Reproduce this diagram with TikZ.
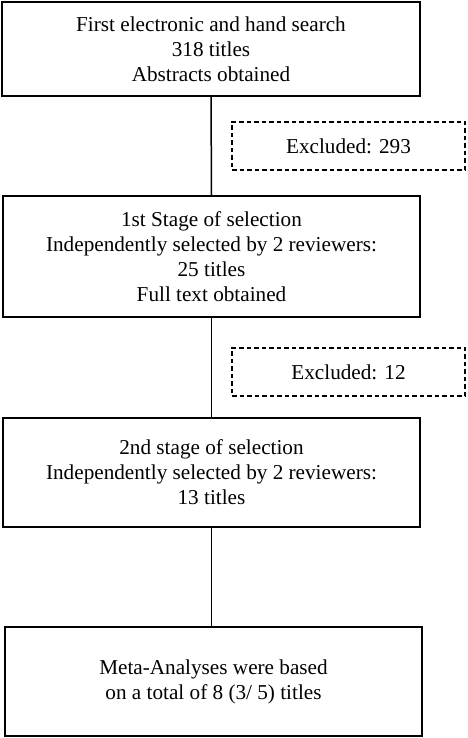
\documentclass[tikz,border=0pt]{standalone}
\usepackage{fontspec}
\setmainfont{Liberation Serif}

\begin{document}
\begin{tikzpicture}[x=1pt,y=1pt,
	caja/.style={draw, line width=1.5pt, align=center, inner sep=0pt,
		font=\fontsize{21.2}{25}\selectfont},
	excluido/.style={caja, dashed, dash pattern=on 4.5pt off 3pt}]
	\useasboundingbox (0,0) rectangle (467,738);
% CAJAS PRINCIPALES
	\node [caja, minimum width=418, minimum height=94] (busqueda) at (211,689)
		{First electronic and hand search\\318 titles\\Abstracts obtained};
	\node [caja, minimum width=417, minimum height=121] (etapa1) at (211.5,481.5)
		{1st Stage of selection\\Independently selected by 2 reviewers:\\25 titles\\Full text obtained};
	\node [caja, minimum width=417, minimum height=109] (etapa2) at (211.5,265.5)
		{2nd stage of selection\\Independently selected by 2 reviewers:\\13 titles};
	\node [caja, minimum width=417, minimum height=109] (meta) at (213.5,56.5)
		{Meta-Analyses were based\\on a total of 8 (3/ 5) titles};
% EXCLUIDOS
	\node [excluido, minimum width=233, minimum height=48] (excl1) at (348.5,592) {Excluded: 293};
	\node [excluido, minimum width=233, minimum height=48] (excl2) at (348.5,366) {Excluded: 12};
% CONECTORES
	\draw [line width=1.5pt] (busqueda.south) -- (etapa1.north);
	\draw [line width=1.5pt] (etapa1.south) -- (etapa2.north);
	\draw [line width=1.5pt] (etapa2.south) -- (meta.north -| etapa2.south);
\end{tikzpicture}
\end{document}
